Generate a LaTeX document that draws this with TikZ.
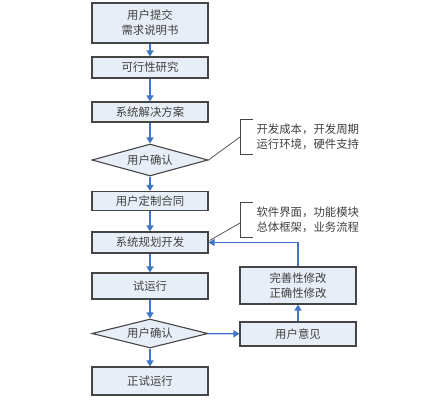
\documentclass[tikz,border=0pt]{standalone}
\usepackage{fontspec}
\newfontfamily\cjk{Noto Sans CJK SC}
\usetikzlibrary{shapes.geometric,arrows.meta}
\definecolor{boxfill}{HTML}{E8EEF8}
\definecolor{boxline}{HTML}{454545}
\definecolor{flowblue}{HTML}{3F74C8}
\begin{document}
\begin{tikzpicture}[x=1pt,y=-1pt,font=\cjk\fontsize{11.4}{15}\selectfont,
  box/.style={draw=boxline,fill=boxfill,line width=1.1pt,minimum width=116pt,inner sep=0pt,align=center,text=black!75},
  dia/.style={draw=boxline,fill=boxfill,line width=1.1pt,diamond,aspect=3.6,minimum width=116pt,inner sep=0pt,text=black!75},
  flow/.style={draw=flowblue,line width=1.4pt,-{Triangle[length=6pt,width=7pt]}},
  brace/.style={draw=boxline,line width=0.7pt}]
\useasboundingbox (0,0) rectangle (441,401);
% main column
\node[box,minimum height=40pt] (req) at (150,23) {用户提交\\需求说明书};
\node[box,minimum height=21pt] (feas) at (150,67.5) {可行性研究};
\node[box,minimum height=20pt] (plan) at (150,112) {系统解决方案};
\node[dia,minimum height=32pt] (ok1) at (150,160) {用户确认};
\node[box,minimum height=19pt] (cont) at (150,201) {用户定制合同};
\node[box,minimum height=21pt] (dev) at (150,242.5) {系统规划开发};
\node[box,minimum height=26pt] (test) at (150,286) {试运行};
\node[dia,minimum height=29pt] (ok2) at (150,333.5) {用户确认};
\node[box,minimum height=28pt] (run) at (150,381) {正试运行};
% right column
\node[box,minimum height=37pt] (fix) at (298,285.5) {完善性修改\\正确性修改};
\node[box,minimum height=24pt] (opin) at (298,334) {用户意见};
% notes
\node[anchor=west,align=left,text=black!75] (note1) at (253,136.5) {开发成本，开发周期\\运行环境，硬件支持};
\node[anchor=west,align=left,text=black!75] (note2) at (253,219.5) {软件界面，功能模块\\总体框架，业务流程};
\coordinate (n1) at (240,137);
\coordinate (n2) at (240,223);
\draw[brace] (253,119) -- (240,119) -- (240,154) -- (253,154);
\draw[brace] (253,202) -- (240,202) -- (240,237) -- (253,237);
\draw[brace] (ok1.east) -- (n1);
\draw[brace] (dev.east) ++(1,-2) -- (n2);
% arrows
\draw[flow] (req) -- (feas);
\draw[flow] (feas) -- (plan);
\draw[flow] (plan) -- (ok1);
\draw[flow] (ok1) -- (cont);
\draw[flow] (cont) -- (dev);
\draw[flow] (dev) -- (test);
\draw[flow] (test) -- (ok2);
\draw[flow] (ok2) -- (run);
\draw[flow] (ok2) -- (opin);
\draw[flow] (opin) -- (fix);
\draw[flow] (fix.north) |- (dev.east);
\end{tikzpicture}
\end{document}
